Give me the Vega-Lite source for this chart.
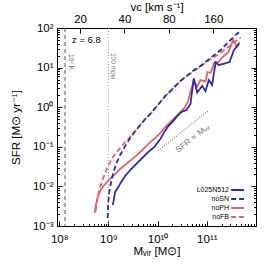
{
  "$schema": "https://vega.github.io/schema/vega-lite/v6.json",
  "width": 199,
  "height": 198,
  "autosize": {"type": "none"},
  "padding": {"left": 57, "top": 28, "right": 8, "bottom": 44},
  "config": {
    "view": {"stroke": "black", "strokeWidth": 1},
    "font": "Liberation Sans",
    "axis": {"labelFont": "Liberation Sans", "titleFont": "Liberation Sans", "labelColor": "black", "titleColor": "black", "tickColor": "black", "tickWidth": 1, "titleFontWeight": "normal", "grid": false, "labelFontSize": 11.5, "titleFontSize": 11.5, "labelFlush": false, "labelOverlap": false, "domain": false}
  },
  "datasets": {
    "curves": [
      {"run": "noFB", "m": 5.48e8, "sfr": 0.00239},
      {"run": "noFB", "m": 5.88e8, "sfr": 0.00454},
      {"run": "noFB", "m": 6.46e8, "sfr": 0.00766},
      {"run": "noFB", "m": 7.43e8, "sfr": 0.0137},
      {"run": "noFB", "m": 8.57e8, "sfr": 0.0218},
      {"run": "noFB", "m": 9.86e8, "sfr": 0.0327},
      {"run": "noFB", "m": 1.135e9, "sfr": 0.0465},
      {"run": "noFB", "m": 1.37e9, "sfr": 0.0658},
      {"run": "noFB", "m": 1.73e9, "sfr": 0.0933},
      {"run": "noFB", "m": 2.19e9, "sfr": 0.132},
      {"run": "noFB", "m": 2.77e9, "sfr": 0.177},
      {"run": "noFB", "m": 3.51e9, "sfr": 0.251},
      {"run": "noFB", "m": 4.44e9, "sfr": 0.356},
      {"run": "noFB", "m": 5.61e9, "sfr": 0.504},
      {"run": "noFB", "m": 7.1e9, "sfr": 0.673},
      {"run": "noFB", "m": 8.98e9, "sfr": 0.955},
      {"run": "noFB", "m": 1.135e10, "sfr": 1.35},
      {"run": "noFB", "m": 1.44e10, "sfr": 1.92},
      {"run": "noFB", "m": 1.82e10, "sfr": 2.56},
      {"run": "noFB", "m": 2.3e10, "sfr": 3.43},
      {"run": "noFB", "m": 2.9e10, "sfr": 4.59},
      {"run": "noFB", "m": 3.67e10, "sfr": 5.79},
      {"run": "noFB", "m": 4.65e10, "sfr": 7.1},
      {"run": "noFB", "m": 7.43e10, "sfr": 10.7},
      {"run": "noFB", "m": 1.08e11, "sfr": 15.1},
      {"run": "noFB", "m": 1.37e11, "sfr": 18.0},
      {"run": "noFB", "m": 1.73e11, "sfr": 22.0},
      {"run": "noFB", "m": 2.19e11, "sfr": 27.0},
      {"run": "noFB", "m": 2.77e11, "sfr": 33.1},
      {"run": "noFB", "m": 3.67e11, "sfr": 44.3},
      {"run": "noFB", "m": 4.87e11, "sfr": 57.5},
      {"run": "noPH", "m": 5.23e8, "sfr": 0.00213},
      {"run": "noPH", "m": 5.61e8, "sfr": 0.0036},
      {"run": "noPH", "m": 6.17e8, "sfr": 0.00573},
      {"run": "noPH", "m": 7.1e8, "sfr": 0.00859},
      {"run": "noPH", "m": 8.57e8, "sfr": 0.0115},
      {"run": "noPH", "m": 1.08e9, "sfr": 0.0154},
      {"run": "noPH", "m": 1.37e9, "sfr": 0.0206},
      {"run": "noPH", "m": 1.73e9, "sfr": 0.0275},
      {"run": "noPH", "m": 2.3e9, "sfr": 0.0368},
      {"run": "noPH", "m": 3.05e9, "sfr": 0.0492},
      {"run": "noPH", "m": 4.04e9, "sfr": 0.0658},
      {"run": "noPH", "m": 5.35e9, "sfr": 0.0933},
      {"run": "noPH", "m": 7.1e9, "sfr": 0.132},
      {"run": "noPH", "m": 8.98e9, "sfr": 0.167},
      {"run": "noPH", "m": 1.135e10, "sfr": 0.223},
      {"run": "noPH", "m": 1.37e10, "sfr": 0.299},
      {"run": "noPH", "m": 1.65e10, "sfr": 0.377},
      {"run": "noPH", "m": 2.0e10, "sfr": 0.475},
      {"run": "noPH", "m": 2.41e10, "sfr": 0.6},
      {"run": "noPH", "m": 2.9e10, "sfr": 0.757},
      {"run": "noPH", "m": 3.51e10, "sfr": 0.955},
      {"run": "noPH", "m": 4.04e10, "sfr": 1.28},
      {"run": "noPH", "m": 4.65e10, "sfr": 2.42},
      {"run": "noPH", "m": 5.43e10, "sfr": 4.59},
      {"run": "noPH", "m": 6.37e10, "sfr": 3.33},
      {"run": "noPH", "m": 7.43e10, "sfr": 4.86},
      {"run": "noPH", "m": 9.4e10, "sfr": 4.46},
      {"run": "noPH", "m": 1.03e11, "sfr": 7.74},
      {"run": "noPH", "m": 1.19e11, "sfr": 7.31},
      {"run": "noPH", "m": 1.44e11, "sfr": 13.8},
      {"run": "noPH", "m": 1.73e11, "sfr": 13.8},
      {"run": "noPH", "m": 2.09e11, "sfr": 18.5},
      {"run": "noPH", "m": 2.77e11, "sfr": 24.8},
      {"run": "noPH", "m": 3.43e11, "sfr": 49.8},
      {"run": "noPH", "m": 4.13e11, "sfr": 34.1},
      {"run": "noPH", "m": 4.65e11, "sfr": 44.3},
      {"run": "noSN", "m": 9.64e8, "sfr": 0.00159},
      {"run": "noSN", "m": 9.86e8, "sfr": 0.00339},
      {"run": "noSN", "m": 1.03e9, "sfr": 0.00681},
      {"run": "noSN", "m": 1.135e9, "sfr": 0.0129},
      {"run": "noSN", "m": 1.25e9, "sfr": 0.0218},
      {"run": "noSN", "m": 1.44e9, "sfr": 0.0368},
      {"run": "noSN", "m": 1.73e9, "sfr": 0.0621},
      {"run": "noSN", "m": 2.19e9, "sfr": 0.105},
      {"run": "noSN", "m": 2.77e9, "sfr": 0.167},
      {"run": "noSN", "m": 3.51e9, "sfr": 0.251},
      {"run": "noSN", "m": 4.44e9, "sfr": 0.356},
      {"run": "noSN", "m": 5.61e9, "sfr": 0.504},
      {"run": "noSN", "m": 7.1e9, "sfr": 0.673},
      {"run": "noSN", "m": 8.98e9, "sfr": 0.955},
      {"run": "noSN", "m": 1.135e10, "sfr": 1.35},
      {"run": "noSN", "m": 1.44e10, "sfr": 1.92},
      {"run": "noSN", "m": 1.82e10, "sfr": 2.56},
      {"run": "noSN", "m": 2.3e10, "sfr": 3.43},
      {"run": "noSN", "m": 2.9e10, "sfr": 4.59},
      {"run": "noSN", "m": 3.67e10, "sfr": 5.79},
      {"run": "noSN", "m": 4.65e10, "sfr": 7.31},
      {"run": "noSN", "m": 5.87e10, "sfr": 9.22},
      {"run": "noSN", "m": 7.43e10, "sfr": 11.0},
      {"run": "noSN", "m": 9.4e10, "sfr": 13.8},
      {"run": "noSN", "m": 1.19e11, "sfr": 17.5},
      {"run": "noSN", "m": 1.51e11, "sfr": 22.0},
      {"run": "noSN", "m": 1.91e11, "sfr": 27.8},
      {"run": "noSN", "m": 2.41e11, "sfr": 37.2},
      {"run": "noSN", "m": 3.05e11, "sfr": 49.8},
      {"run": "noSN", "m": 3.85e11, "sfr": 66.6},
      {"run": "noSN", "m": 4.87e11, "sfr": 84.0},
      {"run": "L025N512", "m": 1.23e9, "sfr": 0.00339},
      {"run": "L025N512", "m": 1.37e9, "sfr": 0.00723},
      {"run": "L025N512", "m": 1.58e9, "sfr": 0.00966},
      {"run": "L025N512", "m": 1.82e9, "sfr": 0.0129},
      {"run": "L025N512", "m": 2.19e9, "sfr": 0.0183},
      {"run": "L025N512", "m": 2.77e9, "sfr": 0.0259},
      {"run": "L025N512", "m": 3.67e9, "sfr": 0.0368},
      {"run": "L025N512", "m": 4.87e9, "sfr": 0.0521},
      {"run": "L025N512", "m": 6.46e9, "sfr": 0.074},
      {"run": "L025N512", "m": 8.57e9, "sfr": 0.0989},
      {"run": "L025N512", "m": 1.135e10, "sfr": 0.157},
      {"run": "L025N512", "m": 1.37e10, "sfr": 0.237},
      {"run": "L025N512", "m": 1.65e10, "sfr": 0.335},
      {"run": "L025N512", "m": 2.0e10, "sfr": 0.423},
      {"run": "L025N512", "m": 2.52e10, "sfr": 0.6},
      {"run": "L025N512", "m": 3.05e10, "sfr": 0.757},
      {"run": "L025N512", "m": 3.85e10, "sfr": 0.849},
      {"run": "L025N512", "m": 4.65e10, "sfr": 1.205},
      {"run": "L025N512", "m": 5.43e10, "sfr": 5.37},
      {"run": "L025N512", "m": 6.37e10, "sfr": 2.35},
      {"run": "L025N512", "m": 8.05e10, "sfr": 3.43},
      {"run": "L025N512", "m": 9.4e10, "sfr": 2.56},
      {"run": "L025N512", "m": 1.1e11, "sfr": 4.86},
      {"run": "L025N512", "m": 1.28e11, "sfr": 3.64},
      {"run": "L025N512", "m": 1.51e11, "sfr": 13.45},
      {"run": "L025N512", "m": 1.76e11, "sfr": 11.6},
      {"run": "L025N512", "m": 2.9e11, "sfr": 13.8},
      {"run": "L025N512", "m": 3.56e11, "sfr": 27.8},
      {"run": "L025N512", "m": 4.54e11, "sfr": 40.6}
    ]
  },
  "layer": [
    {
      "resolve": {"axis": {"x": "independent", "y": "independent"}},
      "layer": [
        {
          "data": {"values": [{}]},
          "mark": {"type": "rule", "color": "#555555", "strokeDash": [4, 3], "strokeWidth": 1},
          "encoding": {"x": {"datum": 1.31e8, "type": "quantitative", "scale": {"type": "log", "domain": [9e7, 1e12], "nice": false}, "axis": null}}
        },
        {
          "data": {"values": [{}]},
          "mark": {"type": "rule", "color": "#9a9a9a", "strokeDash": [1, 2], "strokeWidth": 1},
          "encoding": {"x": {"datum": 1e9, "type": "quantitative", "scale": {"type": "log", "domain": [9e7, 1e12], "nice": false}, "axis": null}}
        },
        {
          "data": {"values": [{"m": 1.03e10, "sfr": 0.08}, {"m": 1.08e11, "sfr": 0.82}]},
          "mark": {"type": "line", "color": "#808080", "strokeDash": [1, 1.5], "strokeWidth": 1.2},
          "encoding": {
            "x": {"field": "m", "type": "quantitative", "scale": {"type": "log", "domain": [9e7, 1e12], "nice": false}, "axis": null},
            "y": {"field": "sfr", "type": "quantitative", "scale": {"type": "log", "domain": [0.001, 100], "nice": false}, "axis": null}
          }
        },
        {
          "data": {"name": "curves"},
          "mark": {"type": "line"},
          "encoding": {
            "x": {"field": "m", "type": "quantitative", "scale": {"type": "log", "domain": [9e7, 1e12], "nice": false},
              "axis": {"orient": "bottom", "values": [1e8, 1e9, 1e10, 1e11], "ticks": false, "labelPadding": 7, "labelExpr": "['10⁸','10⁹','10¹⁰','10¹¹','10¹²'][round(log(datum.value)/LN10)-8]", "title": "Mᵥᵢᵣ [M⊙]", "titlePadding": 1}},
            "y": {"field": "sfr", "type": "quantitative", "scale": {"type": "log", "domain": [0.001, 100], "nice": false},
              "axis": {"orient": "left", "values": [0.001, 0.01, 0.1, 1, 10, 100], "ticks": false, "labelPadding": 4, "labelExpr": "['10⁻³','10⁻²','10⁻¹','10⁰','10¹','10²'][round(log(datum.value)/LN10)+3]", "title": "SFR [M⊙ yr⁻¹]", "titlePadding": 11}},
            "color": {"field": "run", "type": "nominal",
              "scale": {"domain": ["L025N512", "noSN", "noPH", "noFB"], "range": ["#2e2e98", "#2e2e98", "#e0606e", "#e0606e"]},
              "legend": {"orient": "none", "legendX": 175.5, "legendY": 157, "title": null, "symbolType": "M-1.6,0H1.6", "symbolSize": 64, "symbolStrokeWidth": 1.8, "labelFontSize": 7, "labelFont": "Liberation Sans", "labelColor": "black", "labelAlign": "right", "labelOffset": -13.5, "rowPadding": 0, "padding": 0}},
            "strokeDash": {"field": "run", "type": "nominal",
              "scale": {"domain": ["L025N512", "noSN", "noPH", "noFB"], "range": [[1, 0], [5, 3], [1, 0], [5, 3]]}},
            "strokeWidth": {"field": "run", "type": "nominal",
              "scale": {"domain": ["L025N512", "noSN", "noPH", "noFB"], "range": [1.8, 1.8, 1.3, 1.6]}, "legend": null}
          }
        },
        {
          "data": {"values": [{}]},
          "mark": {"type": "text", "text": "z = 6.8", "align": "left", "baseline": "middle", "fontSize": 9.5, "color": "black"},
          "encoding": {
            "x": {"datum": 1.82e8, "type": "quantitative", "scale": {"type": "log", "domain": [9e7, 1e12], "nice": false}, "axis": null},
            "y": {"datum": 49.8, "type": "quantitative", "scale": {"type": "log", "domain": [0.001, 100], "nice": false}, "axis": null}
          }
        },
        {
          "data": {"values": [{}]},
          "mark": {"type": "text", "text": "10⁴ K", "align": "center", "baseline": "middle", "angle": 90, "fontSize": 6.5, "color": "#555555"},
          "encoding": {
            "x": {"datum": 1.73e8, "type": "quantitative", "scale": {"type": "log", "domain": [9e7, 1e12], "nice": false}, "axis": null},
            "y": {"datum": 13.8, "type": "quantitative", "scale": {"type": "log", "domain": [0.001, 100], "nice": false}, "axis": null}
          }
        },
        {
          "data": {"values": [{}]},
          "mark": {"type": "text", "text": "100 mᴅᴍ", "align": "center", "baseline": "middle", "angle": 90, "fontSize": 6.5, "color": "#777777"},
          "encoding": {
            "x": {"datum": 1.25e9, "type": "quantitative", "scale": {"type": "log", "domain": [9e7, 1e12], "nice": false}, "axis": null},
            "y": {"datum": 11.0, "type": "quantitative", "scale": {"type": "log", "domain": [0.001, 100], "nice": false}, "axis": null}
          }
        },
        {
          "data": {"values": [{}]},
          "mark": {"type": "text", "text": "SFR ∝ Mᵥᵢᵣ", "align": "center", "baseline": "middle", "angle": -38, "fontSize": 8.5, "color": "#777777"},
          "encoding": {
            "x": {"datum": 5.1e10, "type": "quantitative", "scale": {"type": "log", "domain": [9e7, 1e12], "nice": false}, "axis": null},
            "y": {"datum": 0.166, "type": "quantitative", "scale": {"type": "log", "domain": [0.001, 100], "nice": false}, "axis": null}
          }
        },
        {
          "data": {"name": "curves"},
          "mark": {"type": "point", "opacity": 0},
          "encoding": {
            "x": {"field": "m", "type": "quantitative", "scale": {"type": "log", "domain": [9e7, 1e12], "nice": false},
              "axis": {"orient": "bottom", "values": [1e8, 1e9, 1e10, 1e11], "labels": false, "tickSize": -5, "title": null}},
            "y": {"field": "sfr", "type": "quantitative", "scale": {"type": "log", "domain": [0.001, 100], "nice": false},
              "axis": {"orient": "left", "values": [0.001, 0.01, 0.1, 1, 10, 100], "labels": false, "tickSize": -5, "title": null}}
          }
        },
        {
          "data": {"name": "curves"},
          "mark": {"type": "point", "opacity": 0},
          "encoding": {
            "x": {"field": "m", "type": "quantitative", "scale": {"type": "log", "domain": [9e7, 1e12], "nice": false},
              "axis": {"orient": "bottom", "values": [2e8, 3e8, 4e8, 5e8, 6e8, 7e8, 8e8, 9e8, 2e9, 3e9, 4e9, 5e9, 6e9, 7e9, 8e9, 9e9, 2e10, 3e10, 4e10, 5e10, 6e10, 7e10, 8e10, 9e10, 2e11, 3e11, 4e11, 5e11, 6e11, 7e11, 8e11, 9e11], "labels": false, "tickSize": -2.5, "title": null}},
            "y": {"field": "sfr", "type": "quantitative", "scale": {"type": "log", "domain": [0.001, 100], "nice": false},
              "axis": {"orient": "left", "values": [0.002, 0.003, 0.004, 0.005, 0.006, 0.007, 0.008, 0.009, 0.02, 0.03, 0.04, 0.05, 0.06, 0.07, 0.08, 0.09, 0.2, 0.3, 0.4, 0.5, 0.6, 0.7, 0.8, 0.9, 2, 3, 4, 5, 6, 7, 8, 9, 20, 30, 40, 50, 60, 70, 80, 90], "labels": false, "tickSize": -2.5, "title": null}}
          }
        },
        {
          "data": {"name": "curves"},
          "mark": {"type": "point", "opacity": 0},
          "encoding": {
            "x": {"field": "m", "type": "quantitative", "scale": {"type": "log", "domain": [9e7, 1e12], "nice": false}, "axis": null},
            "y": {"field": "sfr", "type": "quantitative", "scale": {"type": "log", "domain": [0.001, 100], "nice": false},
              "axis": {"orient": "right", "values": [0.001, 0.01, 0.1, 1, 10, 100], "labels": false, "tickSize": -5, "title": null}}
          }
        },
        {
          "data": {"name": "curves"},
          "mark": {"type": "point", "opacity": 0},
          "encoding": {
            "x": {"field": "m", "type": "quantitative", "scale": {"type": "log", "domain": [9e7, 1e12], "nice": false}, "axis": null},
            "y": {"field": "sfr", "type": "quantitative", "scale": {"type": "log", "domain": [0.001, 100], "nice": false},
              "axis": {"orient": "right", "values": [0.002, 0.003, 0.004, 0.005, 0.006, 0.007, 0.008, 0.009, 0.02, 0.03, 0.04, 0.05, 0.06, 0.07, 0.08, 0.09, 0.2, 0.3, 0.4, 0.5, 0.6, 0.7, 0.8, 0.9, 2, 3, 4, 5, 6, 7, 8, 9, 20, 30, 40, 50, 60, 70, 80, 90], "labels": false, "tickSize": -2.5, "title": null}}
          }
        }
      ]
    },
    {
      "data": {"values": [{}]},
      "mark": {"type": "point", "opacity": 0},
      "encoding": {
        "x": {"datum": 20, "type": "quantitative", "scale": {"type": "log", "domain": [13.96, 311.7], "nice": false},
          "axis": {"orient": "top", "values": [20, 40, 80, 160], "tickSize": -5, "labelPadding": 9, "labelExpr": "format(datum.value, 'd')", "title": "vc [km s⁻¹]", "titlePadding": 1}}
      }
    }
  ],
  "resolve": {"scale": {"x": "independent"}, "axis": {"x": "independent"}}
}
